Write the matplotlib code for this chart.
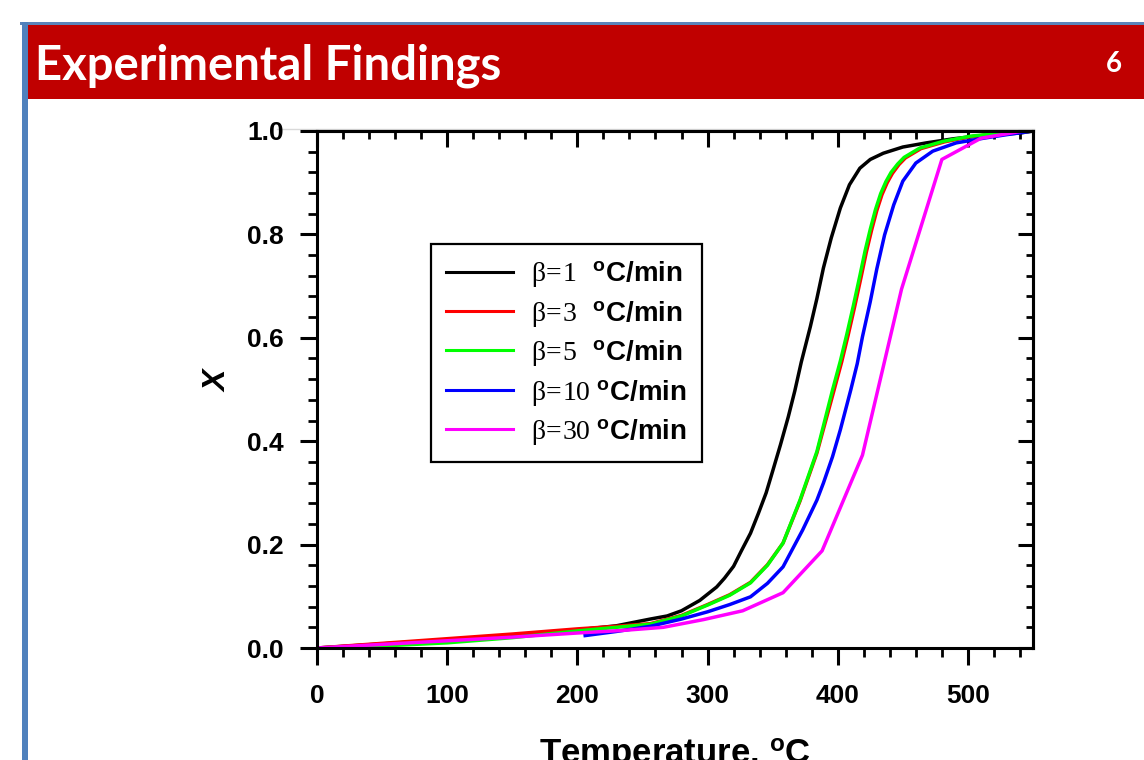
import matplotlib
matplotlib.use('Agg')
import matplotlib.pyplot as plt
from matplotlib.ticker import MultipleLocator, FormatStrFormatter
from matplotlib.patches import Rectangle
from matplotlib.lines import Line2D

plt.rcParams['font.family'] = ['Liberation Sans', 'DejaVu Sans']
plt.rcParams['font.weight'] = 'bold'
plt.rcParams['mathtext.fontset'] = 'custom'
plt.rcParams['mathtext.rm'] = 'Liberation Serif:normal'
plt.rcParams['mathtext.bf'] = 'Liberation Sans:bold'
plt.rcParams['mathtext.it'] = 'Liberation Serif:italic:normal'

# ---------------- data ----------------
title = "Experimental Findings"
slide_number = "6"
x_label = r"Temperature, ${}^{\mathbf{o}}$C"
y_label = "X"
x_ticks = [0, 100, 200, 300, 400, 500]
y_ticks = [0.0, 0.2, 0.4, 0.6, 0.8, 1.0]
heating_rates = ["1", "3", "5", "10", "30"]
colors = ["#000000", "#FF0000", "#00FF00", "#0000FF", "#FF00FF"]

t_b1 = [0, 50, 100, 150, 200, 230, 256, 269, 280, 294, 300, 307, 313, 320, 326, 333,
        339, 345, 350, 356, 362, 367, 372, 379, 384, 389, 395, 402, 409, 417, 425,
        435, 450, 468, 489, 514, 540, 550]
x_b1 = [0.0, 0.008, 0.016, 0.025, 0.035, 0.043, 0.056, 0.062, 0.072, 0.092, 0.104,
        0.118, 0.135, 0.158, 0.188, 0.222, 0.260, 0.300, 0.342, 0.393, 0.447, 0.497,
        0.553, 0.622, 0.676, 0.735, 0.793, 0.851, 0.896, 0.928, 0.945, 0.957, 0.969,
        0.977, 0.985, 0.992, 0.996, 1.0]

t_b3 = [0, 50, 100, 150, 200, 230, 256, 280, 300, 317, 333, 346, 358, 371, 384, 397,
        403, 408, 413, 418, 422, 426, 430, 434, 438, 442, 447, 452, 464, 482, 502,
        527, 550]
x_b3 = [0.0, 0.009, 0.018, 0.027, 0.037, 0.042, 0.047, 0.063, 0.084, 0.103, 0.127,
        0.161, 0.203, 0.284, 0.377, 0.497, 0.553, 0.605, 0.660, 0.718, 0.766, 0.808,
        0.846, 0.877, 0.900, 0.918, 0.935, 0.948, 0.966, 0.979, 0.989, 0.996, 1.0]

t_b5 = [0, 50, 100, 150, 200, 230, 256, 280, 300, 317, 333, 346, 358, 371, 384, 396,
        402, 407, 412, 417, 421, 425, 429, 433, 437, 441, 446, 451, 463, 481, 502,
        527, 550]
x_b5 = [0.0, 0.004, 0.010, 0.020, 0.033, 0.040, 0.046, 0.062, 0.083, 0.102, 0.126,
        0.160, 0.203, 0.286, 0.380, 0.499, 0.555, 0.607, 0.662, 0.720, 0.768, 0.810,
        0.848, 0.879, 0.902, 0.920, 0.936, 0.949, 0.967, 0.980, 0.990, 0.996, 1.0]

t_b10 = [206, 230, 256, 280, 300, 317, 333, 346, 358, 373, 384, 389, 396, 402, 410,
         415, 419, 425, 430, 436, 443, 450, 460, 473, 491, 512, 530, 550]
x_b10 = [0.024, 0.032, 0.042, 0.056, 0.070, 0.084, 0.099, 0.125, 0.157, 0.228, 0.286,
         0.319, 0.370, 0.422, 0.499, 0.550, 0.602, 0.670, 0.733, 0.799, 0.857, 0.903,
         0.938, 0.961, 0.977, 0.986, 0.993, 1.0]

t_b30 = [0, 50, 100, 150, 200, 235, 266, 297, 327, 358, 388, 419, 449, 480, 510, 540]
x_b30 = [0.0, 0.007, 0.014, 0.021, 0.029, 0.034, 0.040, 0.055, 0.072, 0.107, 0.188,
         0.373, 0.694, 0.945, 0.986, 0.999]

series_t = [t_b1, t_b3, t_b5, t_b10, t_b30]
series_x = [x_b1, x_b3, x_b5, x_b10, x_b30]

# ---------------- figure ----------------
fig = plt.figure(figsize=(11.44, 7.6), dpi=100)
fig.patch.set_facecolor('white')

W, H = 1144.0, 760.0
def fx(px):
    return px / W
def fy(py):
    return 1 - py / H

# slide decorations
fig.add_artist(Rectangle((fx(25), fy(99)), 1 - fx(25), fy(25) - fy(99),
                         transform=fig.transFigure, facecolor='#C00000',
                         edgecolor='none', zorder=1))
fig.add_artist(Rectangle((fx(20), fy(25)), 1 - fx(20), fy(22) - fy(25),
                         transform=fig.transFigure, facecolor='#5B84BA',
                         edgecolor='none', zorder=2))
fig.add_artist(Rectangle((fx(22), 0), fx(28) - fx(22), fy(22),
                         transform=fig.transFigure, facecolor='#4F81BD',
                         edgecolor='none', zorder=2))
fig.add_artist(Line2D([fx(277), fx(1034)], [fy(129), fy(129)],
                      transform=fig.transFigure, color='#D9D9D9', lw=1, zorder=0))
fig.text(fx(35), fy(80), title, color='white', fontsize=34, fontweight='bold',
         family=['Lato', 'DejaVu Sans'], va='baseline', ha='left', zorder=3)
fig.text(fx(1122), fy(72), slide_number, color='white', fontsize=20,
         fontweight='bold', family=['Lato', 'DejaVu Sans'], va='baseline',
         ha='right', zorder=3)

# axes
ax = fig.add_axes([fx(317), fy(648), (1033 - 317) / W, (648 - 131) / H])
for t, x, c, r in zip(series_t, series_x, colors, heating_rates):
    pad = r"\enspace" if len(r) == 1 else ""
    lab = r"$\mathrm{\beta\!=\!" + r + r"}" + pad + r"\ {}^{\mathbf{o}}\mathbf{C/min}$"
    ax.plot(t, x, color=c, lw=2.5, label=lab)

ax.set_xlim(0, 550)
ax.set_ylim(0, 1.0)
ax.set_xticks(x_ticks)
ax.set_yticks(y_ticks)
ax.xaxis.set_minor_locator(MultipleLocator(20))
ax.yaxis.set_minor_locator(MultipleLocator(0.04))
ax.yaxis.set_major_formatter(FormatStrFormatter('%.1f'))
for s in ax.spines.values():
    s.set_linewidth(2.2)
ax.tick_params(which='major', direction='out', length=12, width=2.2,
               labelsize=19, pad=12)
ax.tick_params(axis='x', which='major', pad=14)
ax.tick_params(which='minor', direction='out', length=6.5, width=2.0)
for lbl in ax.get_xticklabels() + ax.get_yticklabels():
    lbl.set_fontweight('bold')

top = ax.secondary_xaxis('top')
top.set_xticks(x_ticks)
top.xaxis.set_minor_locator(MultipleLocator(20))
top.tick_params(which='major', direction='in', length=11.5, width=2.2, labeltop=False)
top.tick_params(which='minor', direction='in', length=6, width=2.0)
top.spines['top'].set_linewidth(2.2)

right = ax.secondary_yaxis('right')
right.set_yticks(y_ticks)
right.yaxis.set_minor_locator(MultipleLocator(0.04))
right.tick_params(which='major', direction='in', length=11, width=2.2, labelright=False)
right.tick_params(which='minor', direction='in', length=5, width=2.0)
right.spines['right'].set_linewidth(2.2)

# axis labels
fig.text(fx(675), fy(764), x_label, fontsize=25, fontweight='bold',
         ha='center', va='baseline')
fig.text(fx(218), fy(381), y_label, fontsize=23, fontweight='bold',
         fontstyle='italic', rotation=90, ha='center', va='center')

leg = ax.legend(loc='upper left', bbox_to_anchor=((431 - 317) / 716, (648 - 244) / 517),
                borderaxespad=0, frameon=True, fancybox=False, edgecolor='black',
                framealpha=1, fontsize=20, handlelength=2.4, handletextpad=0.65,
                labelspacing=0.34, borderpad=0.55)
leg.get_frame().set_linewidth(1.6)
for ln in leg.get_lines():
    ln.set_linewidth(2.2)

fig.savefig('out.png', dpi=100)
